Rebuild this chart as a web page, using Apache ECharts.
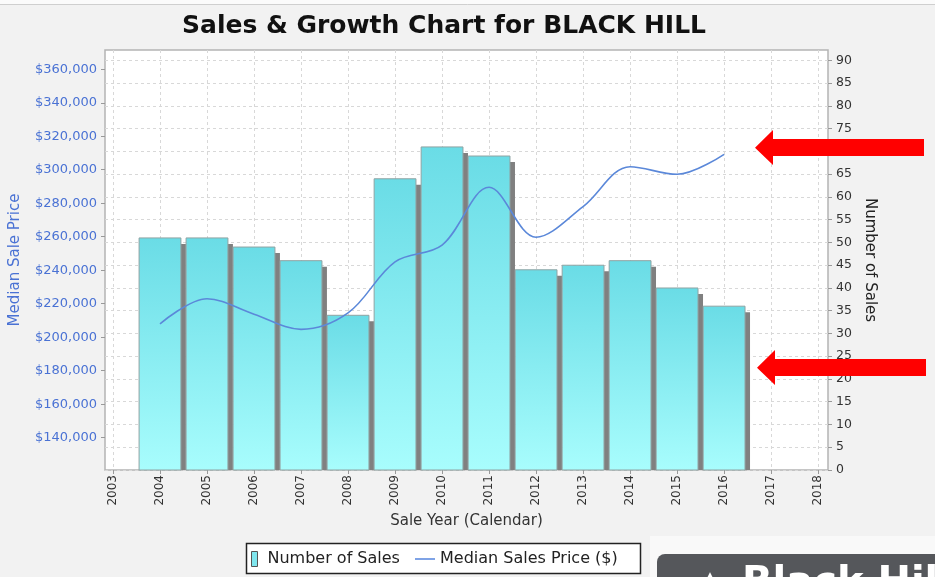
<!DOCTYPE html>
<html><head><meta charset="utf-8">
<script src="https://cdn.jsdelivr.net/npm/echarts@6.0.0/dist/echarts.min.js"></script>
<style>html,body{margin:0;padding:0;background:#f2f2f2;}#c{width:935px;height:577px;}</style>
</head><body><div id="c"></div>
<script>
// ---- data ----
const years = [2004, 2005, 2006, 2007, 2008, 2009, 2010, 2011, 2012, 2013, 2014, 2015, 2016];
const numberOfSales = [51, 51, 49, 46, 34, 64, 71, 69, 44, 45, 46, 40, 36];
const medianPrice = [208000, 223000, 213700, 204700, 214500, 245000, 255000, 289500, 259700, 278000, 301800, 297300, 309200];
const yearTicks = [2003, 2004, 2005, 2006, 2007, 2008, 2009, 2010, 2011, 2012, 2013, 2014, 2015, 2016, 2017, 2018];
const priceTicks = [140000, 160000, 180000, 200000, 220000, 240000, 260000, 280000, 300000, 320000, 340000, 360000];
const salesTicks = [0, 5, 10, 15, 20, 25, 30, 35, 40, 45, 50, 55, 60, 65, 70, 75, 80, 85, 90];

const FONT = 'DejaVu Sans';
const fmtMoney = v => '$' + String(Math.round(v)).replace(/\B(?=(\d{3})+(?!\d))/g, ',');
const chart = echarts.init(document.getElementById('c'));
const barGrad = () => new echarts.graphic.LinearGradient(0, 0, 0, 1, [
  {offset: 0, color: '#6adce6'}, {offset: 1, color: '#a8fdfd'}]);

function renderBar(params, api) {
  const top = api.coord([api.value(0), api.value(1)]);
  const base = api.coord([api.value(0), 0]);
  const w = api.size([1, 0])[0] * 0.89;
  const x = top[0] - w / 2;
  const h = base[1] - top[1];
  return {
    type: 'group',
    children: [
      {type: 'rect', shape: {x: x + 5, y: top[1] + 6, width: w, height: Math.max(0, h - 6)},
        style: {fill: '#808080'}},
      {type: 'rect', shape: {x: x, y: top[1], width: w, height: h},
        style: {fill: barGrad(), stroke: '#8fa3a3', lineWidth: 1}}
    ]
  };
}

chart.setOption({
  backgroundColor: '#f2f2f2',
  animation: false,
  textStyle: {fontFamily: FONT},
  title: {
    text: 'Sales & Growth Chart for BLACK HILL',
    left: 182, top: 14, padding: 0,
    textStyle: {fontFamily: FONT, fontSize: 25, fontWeight: 'bold', color: '#111'}
  },
  grid: {left: 105, right: 107, top: 50, bottom: 107, show: true,
    backgroundColor: '#ffffff', borderColor: '#b4b4b4', borderWidth: 1.5, containLabel: false},
  xAxis: {
    type: 'value', min: 2002.83, max: 2018.21,
    name: 'Sale Year (Calendar)', nameLocation: 'middle', nameGap: 44,
    nameTextStyle: {fontFamily: FONT, fontSize: 15, color: '#333'},
    axisLine: {show: false},
    axisTick: {show: true, customValues: yearTicks, length: 4, lineStyle: {color: '#999'}},
    axisLabel: {customValues: yearTicks, rotate: 90, fontSize: 12, color: '#333', margin: 5,
      formatter: v => String(v)},
    splitLine: {show: true, lineStyle: {type: [3, 3], color: '#d8d8d8'}}
  },
  yAxis: [
    {
      type: 'value', position: 'left', min: 120700, max: 371500,
      name: 'Median Sale Price', nameLocation: 'middle', nameGap: 82, nameRotate: 90,
      nameTextStyle: {fontFamily: FONT, fontSize: 15, color: '#4a72d4'},
      axisLine: {show: false},
      axisTick: {show: true, customValues: priceTicks, length: 4, lineStyle: {color: '#999'}},
      axisLabel: {customValues: priceTicks, color: '#4a72d4', fontSize: 13, margin: 8, formatter: fmtMoney},
      splitLine: {show: false}
    },
    {
      type: 'value', position: 'right', min: 0, max: 92.3,
      name: 'Number of Sales', nameLocation: 'middle', nameGap: 34, nameRotate: -90,
      nameTextStyle: {fontFamily: FONT, fontSize: 15, color: '#222'},
      axisLine: {show: false},
      axisTick: {show: true, customValues: salesTicks, length: 4, lineStyle: {color: '#999'}},
      axisLabel: {customValues: salesTicks, color: '#333', fontSize: 12.5, margin: 8},
      splitLine: {show: true, lineStyle: {type: [3, 3], color: '#d8d8d8'}}
    }
  ],
  legend: [
    {data: [{name: 'Number of Sales', icon: 'rect', itemStyle: {color: '#7fe6ee', borderColor: '#555', borderWidth: 1}}],
      left: 251, top: 551, padding: 0, itemWidth: 6, itemHeight: 15,
      textStyle: {fontFamily: FONT, fontSize: 16, color: '#222', padding: [0, 0, 0, 5]}},
    {data: [{name: 'Median Sales Price ($)', icon: 'path://M0,0H20V2H0Z', itemStyle: {color: '#7fa3e6'}}],
      left: 415, top: 551, padding: 0, itemWidth: 20, itemHeight: 2,
      textStyle: {fontFamily: FONT, fontSize: 16, color: '#222'}}
  ],
  series: [
    {
      type: 'custom', name: 'Number of Sales', yAxisIndex: 1,
      data: years.map((y, i) => [y, numberOfSales[i]]),
      encode: {x: 0, y: 1},
      itemStyle: {color: '#7fe6ee'},
      renderItem: renderBar, z: 2
    },
    {
      type: 'line', name: 'Median Sales Price ($)', yAxisIndex: 0,
      data: years.map((y, i) => [y, medianPrice[i]]),
      smooth: 0.35, showSymbol: false, z: 5,
      lineStyle: {color: '#5b88d9', width: 1.6}, itemStyle: {color: '#5b88d9'}
    }
  ],
  graphic: [
    {type: 'rect', shape: {x: 0, y: 0, width: 935, height: 4}, style: {fill: '#fbfbfb'}, z: 1},
    {type: 'line', shape: {x1: 0, y1: 4.5, x2: 935, y2: 4.5}, style: {stroke: '#cfcfcf', lineWidth: 1}, z: 1},
    {type: 'rect', shape: {x: 246.5, y: 543.5, width: 394, height: 30},
      style: {fill: '#ffffff', stroke: '#222', lineWidth: 1.5}, z: 1},
    {type: 'rect', shape: {x: 650, y: 536, width: 300, height: 60}, style: {fill: '#f9f9f9'}, z: 1},
    {type: 'rect', shape: {x: 657, y: 554, width: 300, height: 50, r: 8}, style: {fill: '#55575b'}, z: 2},
    {type: 'text', x: 700, y: 569, style: {text: '▲', fill: '#ffffff', font: 'bold 26px "DejaVu Sans"'}, z: 3},
    {type: 'text', x: 742, y: 565, style: {text: 'Black Hill', fill: '#ffffff',
      font: 'bold 40px "DejaVu Sans"'}, z: 3},
    {type: 'polygon', shape: {points: [[755, 147.7], [773, 130], [773, 139], [924, 139], [924, 156], [773, 156], [773, 165]]},
      style: {fill: '#ff0000'}, z: 100},
    {type: 'polygon', shape: {points: [[757, 367.7], [775, 350], [775, 359], [926, 359], [926, 376], [775, 376], [775, 385]]},
      style: {fill: '#ff0000'}, z: 100}
  ]
});
</script></body></html>
